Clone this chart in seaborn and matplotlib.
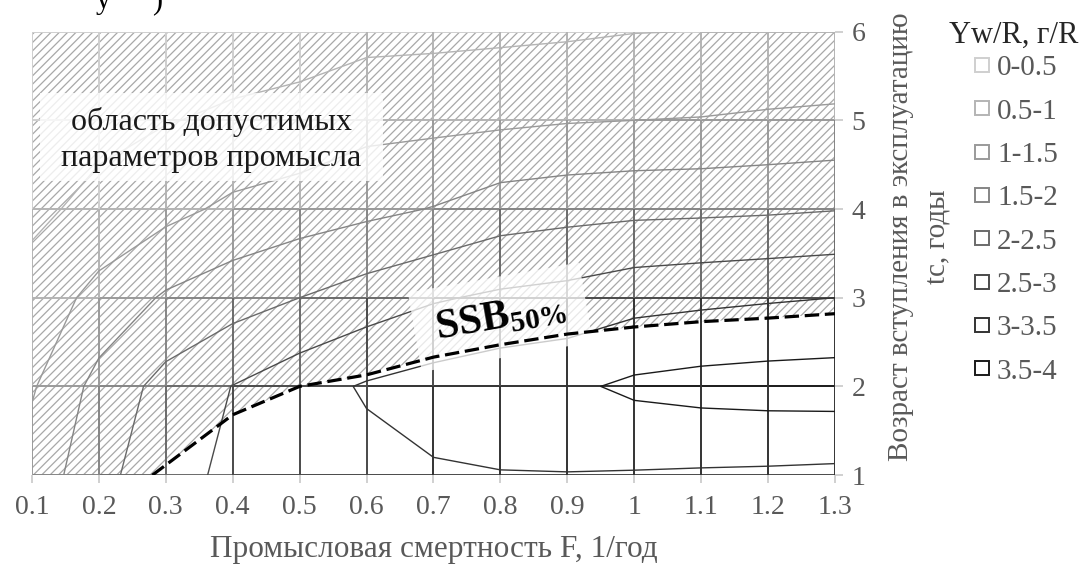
import numpy as np
import matplotlib
matplotlib.use("Agg")
import matplotlib.pyplot as plt
import matplotlib.ticker as mticker
from matplotlib.lines import Line2D
from matplotlib.patches import Rectangle
import seaborn as sns

# --- CONFIG ---
sns.set_theme(style="white")
plt.rcParams['font.family'] = ['Liberation Serif', 'DejaVu Serif']
plt.rcParams['mathtext.fontset'] = 'custom'
plt.rcParams['mathtext.rm'] = 'Liberation Serif'
plt.rcParams['mathtext.bf'] = 'Liberation Serif:bold'
plt.rcParams['hatch.linewidth'] = 0.9
plt.rcParams['hatch.color'] = '#a8a8a8'

# --- DATA ---
# fishing mortality F (1/yr) and age at first capture tc (yr)
F = [0.1, 0.2, 0.3, 0.4, 0.5, 0.6, 0.7, 0.8, 0.9, 1.0, 1.1, 1.2, 1.3]
tc = [1, 2, 3, 4, 5, 6]

# Yw/R (g/R), one row per tc
yw_tc1 = [1.22, 1.81, 2.40, 2.56, 2.70, 2.85, 2.95, 2.98, 2.985, 2.965, 2.94, 2.92, 2.89]
yw_tc2 = [0.95, 1.66, 2.17, 2.51, 2.80, 3.05, 3.20, 3.32, 3.40, 3.60, 3.68, 3.72, 3.74]
yw_tc3 = [0.68, 1.16, 1.56, 1.79, 2.00, 2.23, 2.45, 2.58, 2.66, 2.82, 2.89, 2.95, 3.00]
yw_tc4 = [0.40, 0.63, 0.86, 1.10, 1.25, 1.38, 1.52, 1.75, 1.83, 1.88, 1.90, 1.93, 1.98]
yw_tc5 = [0.26, 0.37, 0.48, 0.57, 0.63, 0.84, 0.87, 0.91, 0.97, 1.00, 1.02, 1.07, 1.11]
yw_tc6 = [0.10, 0.15, 0.22, 0.28, 0.33, 0.36, 0.38, 0.41, 0.44, 0.49, 0.505, 0.51, 0.52]

levels = [0, 0.5, 1, 1.5, 2, 2.5, 3, 3.5, 4]
band_labels = ['0-0.5', '0.5-1', '1-1.5', '1.5-2', '2-2.5', '2.5-3', '3-3.5', '3.5-4']
band_colors = ['#cfcfcf', '#b4b4b4', '#9a9a9a', '#858585', '#6a6a6a', '#4a4a4a', '#333333', '#1a1a1a']

# SSB 50% boundary
ssb_F = [0.28, 0.4, 0.5, 0.6, 0.7, 0.8, 0.9, 1.0, 1.1, 1.2, 1.3]
ssb_tc = [1.0, 1.68, 2.0, 2.13, 2.33, 2.47, 2.59, 2.67, 2.73, 2.77, 2.82]

Z = np.array([yw_tc1, yw_tc2, yw_tc3, yw_tc4, yw_tc5, yw_tc6])


def band_color(v):
    i = int(np.clip(np.searchsorted(levels, v) - 1, 0, len(band_colors) - 1))
    return band_colors[i]


# --- FIGURE ---
fig = plt.figure(figsize=(10.83, 5.71), dpi=100)
ax = fig.add_axes([0.0295, 0.168, 0.7415, 0.7765])

# hatched admissible area above SSB line
ax.fill_between([F[0]] + ssb_F, [tc[0]] + ssb_tc, tc[-1],
                facecolor='white', edgecolor='#a8a8a8', hatch='////', linewidth=0, zorder=1)

# wireframe mesh coloured by band
for j in range(len(tc)):
    for i in range(len(F) - 1):
        ax.plot([F[i], F[i + 1]], [tc[j], tc[j]], color=band_color((Z[j, i] + Z[j, i + 1]) / 2),
                lw=1.4, solid_capstyle='butt', zorder=2)
for i in range(len(F)):
    for j in range(len(tc) - 1):
        ax.plot([F[i], F[i]], [tc[j], tc[j + 1]], color=band_color((Z[j, i] + Z[j + 1, i]) / 2),
                lw=1.4, solid_capstyle='butt', zorder=2)

# contour lines
ax.contour(F, tc, Z, levels=levels[1:-1], colors=band_colors[1:], linewidths=1.0, zorder=3)

# labels over the plot
ax.add_patch(Rectangle((0.112, 4.32), 0.513, 0.99, facecolor='white', edgecolor='none',
                       alpha=0.8, zorder=5))
ax.text(0.368, 4.78, 'область допустимых\nпараметров промысла', fontsize=23, color='#1a1a1a',
        ha='center', va='center', linespacing=1.3, zorder=6)
ax.text(0.80, 2.78, r'$\mathbf{SSB}_{\mathbf{50\%}}$', fontsize=30, color='black', rotation=10,
        ha='center', va='center', zorder=5,
        bbox=dict(boxstyle='square,pad=0.5', fc='white', ec='none', alpha=0.75))

# SSB 50% line
sns.lineplot(x=ssb_F, y=ssb_tc, ax=ax, color='black', lw=2.3, zorder=6)
ax.lines[-1].set_dashes((4.5, 1.8))

# axes
ax.set_xlim(F[0], F[-1])
ax.set_ylim(tc[0], tc[-1])
ax.set_xticks(F)
ax.set_yticks(tc)
ax.xaxis.set_major_formatter(mticker.FuncFormatter(lambda x, _: f'{x:g}'))
ax.yaxis.tick_right()
ax.yaxis.set_label_position('right')
for s in ax.spines.values():
    s.set_visible(False)
ax.tick_params(axis='x', bottom=True, direction='out', length=6, width=1.2, color='#c8c8c8',
               labelsize=20, labelcolor='#595959', pad=8)
ax.tick_params(axis='y', right=True, left=False, direction='out', length=6, width=1.2, color='#c8c8c8',
               labelsize=20, labelcolor='#595959', pad=6)
ax.set_xlabel('Промысловая смертность F, 1/год', fontsize=22.5, color='#595959', labelpad=11)
ax.set_ylabel('Возраст вступления в эксплуатацию\ntc, годы', fontsize=21, color='#595959',
              rotation=90, linespacing=1.55, ha='center', va='center')
ax.yaxis.set_label_coords(1.105, 0.537)

# legend
handles = [Line2D([], [], marker='s', ls='none', markersize=10.5, markerfacecolor='white',
                  markeredgecolor=c, markeredgewidth=1.4) for c in band_colors]
leg = fig.legend(handles, band_labels, loc='upper left',
                 bbox_to_anchor=(0.899, 0.904), frameon=False, fontsize=21,
                 labelspacing=0.58, handlelength=0.6, handletextpad=0.2,
                 borderaxespad=0, borderpad=0)
for t in leg.get_texts():
    t.set_color('#595959')
fig.text(0.936, 1 - 35 / 571, 'Yw/R, г/R', fontsize=22, color='#262626', ha='center', va='center')

# cropped fragments of the text line above the chart
fig.text(0.095, 0.986, 'у', fontsize=22, color='black', ha='center', va='baseline')
fig.text(0.145, 0.986, ')', fontsize=22, color='black', ha='center', va='baseline')

fig.savefig('out.png', dpi=100)
